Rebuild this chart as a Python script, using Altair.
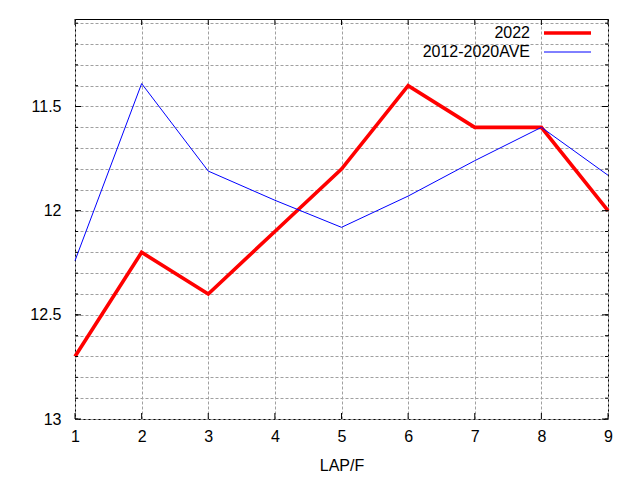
import altair as alt
import pandas as pd

laps = [1, 2, 3, 4, 5, 6, 7, 8, 9]
series_2022 = [12.70, 12.20, 12.40, 12.10, 11.80, 11.40, 11.60, 11.60, 12.00]
series_ave = [12.24, 11.39, 11.81, 11.95, 12.08, 11.93, 11.76, 11.60, 11.83]
names = ["2022", "2012-2020AVE"]
colors = ["#ff0000", "#0000ff"]
widths = [3.6, 1.0]

y_minor = [round(11.1 + 0.1 * i, 1) for i in range(20)]
y_major = [11.5, 12.0, 12.5, 13.0]
y_domain = [11.08, 13.0]

W, H = 533, 400
FONT = "Liberation Sans"
FS = 16

rows = []
for n, vals in zip(names, [series_2022, series_ave]):
    for x, v in zip(laps, vals):
        rows.append({"lap": x, "time": v, "series": n})
df = pd.DataFrame(rows)

xscale = alt.Scale(domain=[1, 9], nice=False, zero=False)
yscale = alt.Scale(domain=y_domain, reverse=True, nice=False, zero=False)

major_test = " || ".join(f"abs(datum.value - {v}) < 0.001" for v in y_major)

xaxis = alt.Axis(values=laps, format="d", grid=True, gridDash=[3, 2], gridColor="#a0a0a0",
                 gridOpacity=1, ticks=False, domain=False, labelPadding=9,
                 labelOverlap=False, labelFlush=False,
                 labelFont=FONT, labelFontSize=FS, labelColor="#000",
                 titleFont=FONT, titleFontSize=FS, titleFontWeight="normal",
                 titleColor="#000", titlePadding=13)
yaxis = alt.Axis(values=y_minor, format="~g", grid=True, gridDash=[3, 2], gridColor="#a0a0a0",
                 gridOpacity=1, ticks=False, domain=False, labelPadding=14,
                 labelOverlap=False, labelFlush=False,
                 labelFont=FONT, labelFontSize=FS, labelColor="#000",
                 labelExpr=f"({major_test}) ? datum.label : ''")

lines = alt.Chart(df).mark_line().encode(
    x=alt.X("lap:Q", scale=xscale, title="LAP/F", axis=xaxis),
    y=alt.Y("time:Q", scale=yscale, title=None, axis=yaxis),
    color=alt.Color("series:N", scale=alt.Scale(domain=names, range=colors), legend=None),
    strokeWidth=alt.StrokeWidth("series:N", scale=alt.Scale(domain=names, range=widths), legend=None),
    order=alt.Order("lap:Q"),
)

minor_df = pd.DataFrame({"v": y_minor})
major_df = pd.DataFrame({"v": y_major})
xt_df = pd.DataFrame({"v": laps})

def yticks(d, length):
    base = alt.Chart(d)
    l = base.mark_rule(color="#000", strokeWidth=1).encode(
        y=alt.Y("v:Q", scale=yscale, title=None, axis=yaxis), x=alt.value(0), x2=alt.value(length))
    r = base.mark_rule(color="#000", strokeWidth=1).encode(
        y=alt.Y("v:Q", scale=yscale, title=None, axis=yaxis), x=alt.value(W - length), x2=alt.value(W))
    return l + r

xtb = alt.Chart(xt_df).mark_rule(color="#000", strokeWidth=1).encode(
    x=alt.X("v:Q", scale=xscale, title="LAP/F", axis=xaxis), y=alt.value(H - 6), y2=alt.value(H))
xtt = alt.Chart(xt_df).mark_rule(color="#000", strokeWidth=1).encode(
    x=alt.X("v:Q", scale=xscale, title="LAP/F", axis=xaxis), y=alt.value(0), y2=alt.value(6))

one = pd.DataFrame({"k": [0]})
leg_text = []
leg_line = []
for i, (n, c, w) in enumerate(zip(names, colors, widths)):
    yy = 14 + 19 * i
    leg_text.append(alt.Chart(one).mark_text(align="right", baseline="middle", font=FONT,
                                             fontSize=FS, fontWeight="normal", color="#000").encode(
        x=alt.value(455), y=alt.value(yy), text=alt.value(n)))
    leg_line.append(alt.Chart(one).mark_rule(color=c, strokeWidth=w).encode(
        x=alt.value(469), x2=alt.value(516), y=alt.value(yy)))

chart = alt.layer(lines, yticks(minor_df, 3), yticks(major_df, 6), xtb, xtt,
                  *leg_text, *leg_line).properties(
    width=W, height=H,
    autosize=alt.AutoSizeParams(type="none"),
    padding={"left": 67, "top": 11, "right": 20, "bottom": 60},
    background="#ffffff",
).configure_view(stroke="#000", strokeWidth=1).configure_axis(labelOverlap=False)

chart.save("out.html", embed_options={"renderer": "svg", "actions": False})
